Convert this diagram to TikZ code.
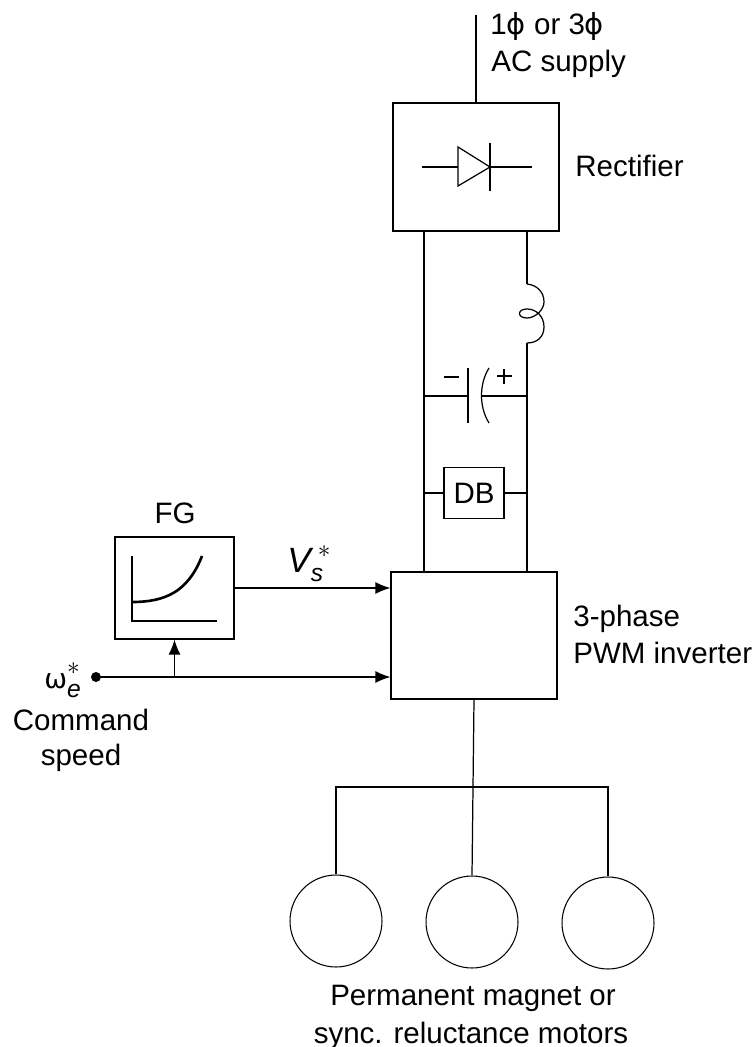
\documentclass[tikz,border=0pt]{standalone}
\usepackage{amsmath}
\usepackage{fontspec}
\setmainfont{Liberation Sans}
\newfontfamily\greekfont{DejaVu Sans}
\usetikzlibrary{arrows.meta}
\tikzset{
  wire/.style={line width=0.7pt},
  sigarrow/.style={wire,-{Latex[length=0.3cm,width=0.24cm]}},
  blockbox/.style={draw,line width=0.7pt,inner sep=0pt},
  motor/.style={circle,draw,line width=0.6pt,inner sep=0pt,minimum size=1.84cm},
  lbl/.style={inner sep=0pt,font=\fontsize{16.8}{21}\selectfont},
  symlbl/.style={inner sep=0pt,font=\fontsize{20}{21}\selectfont},
}
\newcommand{\phasesym}{{\greekfont\fontsize{16.5}{21}\selectfont ϕ}}
\begin{document}
\begin{tikzpicture}[x=0.02cm,y=-0.02cm]
  \useasboundingbox (0,0) rectangle (754,1047);

  % ---- main blocks ----
  \node[blockbox,minimum width=3.32cm,minimum height=2.56cm] (rect) at (476,167) {};
  \node[blockbox,minimum width=3.32cm,minimum height=2.54cm] (inv) at (474,635.5) {};
  \node[blockbox,minimum width=2.38cm,minimum height=2.04cm] (fg) at (174.5,588) {};
  \node[blockbox,lbl,minimum width=1.2cm,minimum height=1.02cm] (db) at (474,493) {DB};

  % ---- supply and rectifier ----
  \coordinate (sup) at (476,15);
  \draw[wire] (sup) -- (sup |- rect.north);
  \node[lbl,anchor=base west] (suplbl) at (490,35) {1\phasesym{} or 3\phasesym};
  \node[lbl,anchor=base west] (suplblb) at (491,72) {AC supply};
  \node[lbl,anchor=base west] (reclbl) at (575,177) {Rectifier};
  \draw[wire] (422,167) -- (458,167);
  \draw[wire] (458,147) -- (490,167) -- (458,186) -- cycle;
  \draw[wire] (490,143) -- (490,191);
  \draw[wire] (490,167) -- (532,167);

  % ---- dc link ----
  \coordinate (dcl) at (424,231);
  \coordinate (dcr) at (527,231);
  \coordinate (indt) at (527,284);
  \coordinate (indb) at (527,343);
  \draw[wire] (dcl) -- (dcl |- inv.north);
  \draw[wire] (dcr) -- (indt);
  \draw[wire] (indb) -- (indb |- inv.north);
  \draw[wire] (indt) .. controls (537,285) and (544,292) .. (544,302)
    .. controls (544,310) and (535,318) .. (527,318)
    .. controls (517,318) and (517,309) .. (527,309)
    .. controls (536,309) and (544,316) .. (544,327)
    .. controls (544,337) and (537,343) .. (indb);

  % ---- capacitor ----
  \coordinate (capa) at (468,396);
  \coordinate (capb) at (482,396);
  \draw[wire] (dcl |- capa) -- (capa);
  \draw[wire] (capb) -- (indb |- capb);
  \draw[wire] (468,368) -- (468,423);
  \draw[wire] (489,368) .. controls (479,384) and (479,407) .. (489,423);
  \draw[wire] (444,377) -- (459,377);
  \draw[wire] (497,376) -- (512,376);
  \draw[wire] (504,369) -- (504,384);

  % ---- braking unit ----
  \draw[wire] (dcl |- db.west) -- (db.west);
  \draw[wire] (db.east) -- (indb |- db.east);

  % ---- inverter and motors ----
  \node[lbl,anchor=base west] (invlbl) at (573,626) {3-phase};
  \node[lbl,anchor=base west] (invlblb) at (573,663) {PWM inverter};
  \foreach \i/\cx/\cy in {1/336/921,2/472/922,3/608/923}{
    \node[motor] (mot\i) at (\cx,\cy) {};
  }
  \coordinate (bus) at (473,787);
  \draw[wire] (inv.south) -- (mot2.north);
  \draw[wire] (mot1.north) |- (bus) -| (mot3.north);
  \node[lbl,anchor=base] (motlbl) at (473,1005) {Permanent magnet or};
  \node[lbl,anchor=base] (motlblb) at (471,1043) {sync. reluctance motors};

  % ---- function generator ----
  \node[lbl,anchor=base] (fglbl) at (175,523) {FG};
  \draw[wire] (132,556) -- (132,621) -- (217,621);
  \draw[line width=1.5pt] (132,602) .. controls (165,602) and (188,592) .. (202,556);

  % ---- command inputs ----
  \node[circle,fill,inner sep=0pt,minimum size=0.2cm] (cmd) at (96,677) {};
  \coordinate (tap) at (174.5,677);
  \draw[sigarrow] (fg.east) -- (fg.east -| inv.west);
  \draw[sigarrow] (cmd) -- (cmd -| inv.west);
  \draw[sigarrow] (tap) -- (fg.south);
  \node[symlbl,anchor=base west] (vslbl) at (287,572) {$\textit{V}_{\textit{s}}^{\;*}$};
  \node[symlbl,anchor=base west] (wlbl) at (44,688) {{\greekfont\fontsize{15.5}{21}\selectfont ω}$_{\textit{e}}^{*}$};
  \node[lbl,anchor=base] (cmdlbl) at (81,730) {Command};
  \node[lbl,anchor=base] (cmdlblb) at (81,765) {speed};
\end{tikzpicture}
\end{document}
